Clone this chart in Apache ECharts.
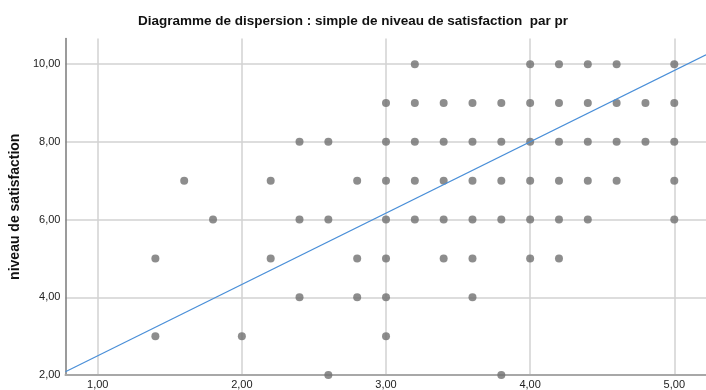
<!DOCTYPE html>
<html>
<head>
<meta charset="utf-8">
<script src="https://cdn.jsdelivr.net/npm/echarts@6/dist/echarts.min.js"></script>
<style>
  html, body { margin: 0; padding: 0; background: #fff; }
  #chart { width: 706px; height: 390px; }
</style>
</head>
<body>
<div id="chart"></div>
<script>
// Observed (score, satisfaction) pairs, grouped by satisfaction level
const satisfactionLevels = [10, 9, 8, 7, 6, 5, 4, 3, 2];
const scoresAt10 = [3.2, 4.0, 4.2, 4.4, 4.6, 5.0];
const scoresAt9 = [3.0, 3.2, 3.4, 3.6, 3.8, 4.0, 4.2, 4.4, 4.6, 4.8, 5.0];
const scoresAt8 = [2.4, 2.6, 3.0, 3.2, 3.4, 3.6, 3.8, 4.0, 4.2, 4.4, 4.6, 4.8, 5.0];
const scoresAt7 = [1.6, 2.2, 2.8, 3.0, 3.2, 3.4, 3.6, 3.8, 4.0, 4.2, 4.4, 4.6, 5.0];
const scoresAt6 = [1.8, 2.4, 2.6, 3.0, 3.2, 3.4, 3.6, 3.8, 4.0, 4.2, 4.4, 5.0];
const scoresAt5 = [1.4, 2.2, 2.8, 3.0, 3.4, 3.6, 4.0, 4.2];
const scoresAt4 = [2.4, 2.8, 3.0, 3.6];
const scoresAt3 = [1.4, 2.0, 3.0];
const scoresAt2 = [2.6, 3.8];
const scoresByLevel = [scoresAt10, scoresAt9, scoresAt8, scoresAt7, scoresAt6, scoresAt5, scoresAt4, scoresAt3, scoresAt2];

// Linear fit: satisfaction = intercept + slope * score
const fitIntercept = 0.66;
const fitSlope = 1.835;

// Axis ranges and ticks
const xMin = 0.776, xMax = 5.22;
const yMin = 2, yMax = 10.66;
const xTicks = [1, 2, 3, 4, 5];
const yTicks = [2, 4, 6, 8, 10];

const points = [];
satisfactionLevels.forEach(function (lvl, i) {
  scoresByLevel[i].forEach(function (s) { points.push([s, lvl]); });
});
const fitLine = [xMin, xMax].map(function (x) { return [x, fitIntercept + fitSlope * x]; });

const fmt = function (v) { return v.toFixed(2).replace('.', ','); };
const FONT = 'Liberation Sans, Arial, sans-serif';
const GRID_COLOR = '#d2d2d2';

const chart = echarts.init(document.getElementById('chart'), null, { renderer: 'canvas' });
chart.setOption({
  animation: false,
  backgroundColor: '#ffffff',
  title: {
    text: 'Diagramme de dispersion : simple de niveau de satisfaction  par pr',
    left: 'center',
    top: 9,
    textStyle: { fontFamily: FONT, fontSize: 13.5, fontWeight: 'bold', color: '#111' }
  },
  grid: { left: 61, right: 0, top: 38.5, bottom: 15, containLabel: false },
  xAxis: {
    type: 'value',
    min: xMin, max: xMax,
    axisLine: { show: true, onZero: false, lineStyle: { color: '#a8a8a8', width: 2 } },
    axisTick: { show: false, customValues: xTicks },
    axisLabel: {
      margin: 4,
      fontFamily: FONT, fontSize: 11, color: '#222',
      customValues: xTicks,
      formatter: fmt
    },
    splitLine: { show: true, customValues: xTicks, lineStyle: { color: GRID_COLOR, width: 1.5 } }
  },
  yAxis: {
    type: 'value',
    min: yMin, max: yMax,
    name: 'niveau de satisfaction',
    nameLocation: 'middle',
    nameRotate: 90,
    nameGap: 35,
    nameTextStyle: { fontFamily: FONT, fontSize: 14, fontWeight: 'bold', color: '#111' },
    axisLine: { show: true, onZero: false, lineStyle: { color: '#7a7a7a', width: 1.5 } },
    axisTick: { show: false, customValues: yTicks },
    axisLabel: {
      margin: 5,
      fontFamily: FONT, fontSize: 11, color: '#222',
      customValues: yTicks,
      formatter: fmt
    },
    splitLine: { show: true, customValues: yTicks, lineStyle: { color: GRID_COLOR, width: 1.5 } }
  },
  series: [
    {
      type: 'scatter',
      data: points,
      symbol: 'circle',
      symbolSize: 8,
      itemStyle: { color: '#717171' },
      z: 3
    },
    {
      type: 'line',
      data: fitLine,
      symbol: 'none',
      lineStyle: { color: '#4a8fd8', width: 1.2 },
      z: 4
    }
  ]
});
</script>
</body>
</html>
